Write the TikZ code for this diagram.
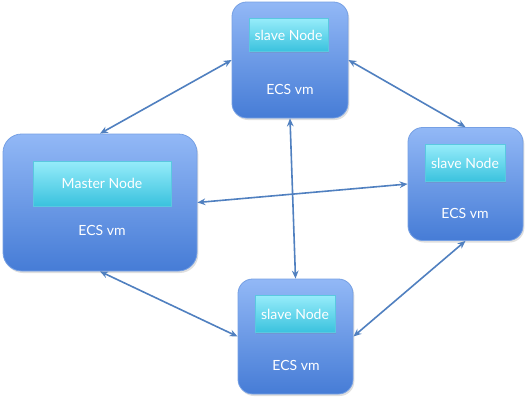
\documentclass[tikz,border=0pt]{standalone}
\usepackage{fontspec}
\setmainfont{Lato}
\usetikzlibrary{arrows.meta,shadows}
\definecolor{outtop}{RGB}{146,184,246}
\definecolor{outbot}{RGB}{70,124,214}
\definecolor{outedge}{RGB}{118,160,228}
\definecolor{intop}{RGB}{150,236,250}
\definecolor{inbot}{RGB}{58,194,222}
\definecolor{inedge}{RGB}{90,200,224}
\definecolor{arrowc}{RGB}{80,128,192}
\tikzset{
  vmbox/.style={rounded corners=#1, draw=outedge, line width=0.6pt,
    top color=outtop, bottom color=outbot, inner sep=0pt,
    drop shadow={shadow xshift=1pt, shadow yshift=-1.5pt, opacity=0.25}},
  nodebox/.style={draw=inedge, line width=0.5pt, top color=intop, bottom color=inbot,
    inner sep=0pt, text=white, font=\fontsize{10.5}{12}\selectfont,
    drop shadow={shadow xshift=0.8pt, shadow yshift=-1pt, opacity=0.2}},
  vmlabel/.style={text=white, font=\fontsize{10.5}{12}\selectfont, inner sep=0pt},
  link/.style={draw=arrowc, line width=1.2pt, {Stealth[length=6pt,width=5pt]}-{Stealth[length=6pt,width=5pt]}}
}
\begin{document}
\begin{tikzpicture}[x=0.75pt,y=-0.75pt]
\fill[white] (0,0) rectangle (525,400);
\useasboundingbox (0,0) rectangle (525,400);
% outer VM boxes
\node[vmbox=14pt, minimum width=194*0.75pt, minimum height=137*0.75pt] (master) at (100,202.5) {};
\node[vmbox=11pt, minimum width=116*0.75pt, minimum height=116*0.75pt] (top) at (290,60) {};
\node[vmbox=11pt, minimum width=115*0.75pt, minimum height=113*0.75pt] (right) at (465.5,184) {};
\node[vmbox=11pt, minimum width=115*0.75pt, minimum height=115*0.75pt] (bottom) at (295.5,336.5) {};
% inner boxes
\node[nodebox, minimum width=138*0.75pt, minimum height=45*0.75pt] (masterin) at (102,183.5) {Master Node};
\node[nodebox, minimum width=79*0.75pt, minimum height=33*0.75pt] (topin) at (288.5,35) {slave Node};
\node[nodebox, minimum width=80*0.75pt, minimum height=37*0.75pt] (rightin) at (465,163) {slave Node};
\node[nodebox, minimum width=80*0.75pt, minimum height=37*0.75pt] (bottomin) at (295,314) {slave Node};
% labels
\node[vmlabel] (masterl) at (102,230) {ECS vm};
\node[vmlabel] (topl) at (290,89) {ECS vm};
\node[vmlabel] (rightl) at (465,213) {ECS vm};
\node[vmlabel] (bottoml) at (296,365) {ECS vm};
% links
\draw[link] (master.north) -- (top.west);
\draw[link] (top.east) -- (right.north);
\draw[link] (master.east) -- (right.west);
\draw[link] (top.south) -- (bottom.north);
\draw[link] (master.south) -- (bottom.west);
\draw[link] (right.south) -- (bottom.east);
\end{tikzpicture}
\end{document}
